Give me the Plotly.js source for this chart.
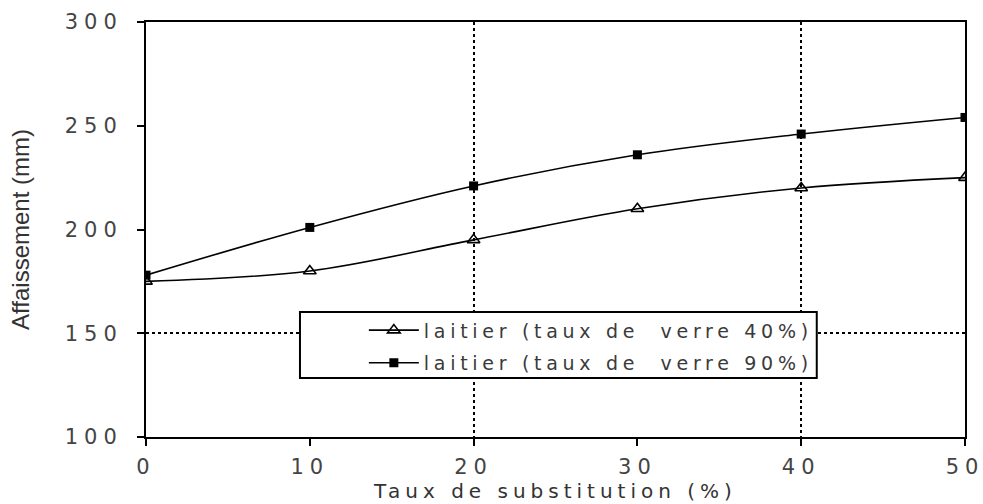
<!DOCTYPE html>
<html><head><meta charset="utf-8">
<script src="https://cdn.plot.ly/plotly-3.0.1.min.js"></script>
<style>
html,body{margin:0;padding:0;background:#fff}
text{letter-spacing:6px}
text.legendtext{letter-spacing:4.7px}
text.xtitle{letter-spacing:5px}
text.ytitle{letter-spacing:0px}
</style>
</head><body><div id="chart" style="width:983px;height:504px"></div>
<script>
const substitution = [0, 10, 20, 30, 40, 50];
const verre40 = [175, 180, 195, 210, 220, 225];
const verre90 = [178, 201, 221, 236, 246, 254];
const seriesNames = ["laitier (taux de  verre 40%)", "laitier (taux de  verre 90%)"];
const xTicks = [0, 10, 20, 30, 40, 50];
const yTicks = [100, 150, 200, 250, 300];

const traces = [
  {x: substitution, y: verre40, name: seriesNames[0], mode: 'lines+markers', legendgroup: 'a',
   line: {color: '#000', width: 1.6, shape: 'spline', smoothing: 1},
   marker: {symbol: 'triangle-up-open', size: 11, color: '#000', line: {width: 1.6, color: '#000'}}},
  {x: substitution, y: verre90, name: seriesNames[1], mode: 'lines+markers', legendgroup: 'b',
   line: {color: '#000', width: 1.6, shape: 'spline', smoothing: 1},
   marker: {symbol: 'square', size: 9, color: '#000'}}
];

const layout = {
  width: 983, height: 504,
  margin: {l: 146, r: 18, t: 22, b: 67},
  paper_bgcolor: '#fff', plot_bgcolor: '#fff',
  font: {family: 'DejaVu Sans, sans-serif', color: '#333'},
  showlegend: true,
  legend: {x: 0.266, y: 0.303, xanchor: 'left', yanchor: 'top',
    bgcolor: 'rgba(0,0,0,0)', borderwidth: 0,
    font: {size: 19, color: '#3a3a3a'}, itemwidth: 50, tracegroupgap: 5},
  shapes: [{type: 'rect', xref: 'paper', yref: 'paper', x0: 0.188, x1: 0.819, y0: 0.142, y1: 0.301,
    fillcolor: '#fff', line: {color: '#000', width: 2}, layer: 'above'}],
  xaxis: {range: [0, 50], tickvals: xTicks, ticktext: xTicks.map(String),
    showline: true, linecolor: '#000', linewidth: 2, mirror: true,
    ticks: 'outside', ticklen: 7, tickwidth: 2, tickcolor: '#000',
    showgrid: false, zeroline: false, ticklabelstandoff: 3, ticklabeloverflow: 'allow',
    tickfont: {size: 21, color: '#444'},
    minor: {tick0: 20, dtick: 20, showgrid: true, gridcolor: '#000', griddash: 'dot', gridwidth: 2, ticks: ''},
    title: {text: 'Taux de substitution (%)', font: {size: 20, color: '#333'}, standoff: 0}},
  yaxis: {range: [100, 300], tickvals: yTicks, ticktext: yTicks.map(String),
    showline: true, linecolor: '#000', linewidth: 2, mirror: true,
    ticks: 'outside', ticklen: 7, tickwidth: 2, tickcolor: '#000',
    showgrid: false, zeroline: false, ticklabelstandoff: 10, ticklabeloverflow: 'allow',
    tickfont: {size: 21, color: '#444'},
    minor: {tick0: 150, dtick: 200, showgrid: true, gridcolor: '#000', griddash: 'dot', gridwidth: 2, ticks: ''},
    title: {text: 'Affaissement (mm)', font: {size: 24, color: '#333', family: 'Liberation Sans, Arial, sans-serif'}, standoff: 28}}
};
Plotly.newPlot('chart', traces, layout, {displayModeBar: false, staticPlot: true});
</script></body></html>
